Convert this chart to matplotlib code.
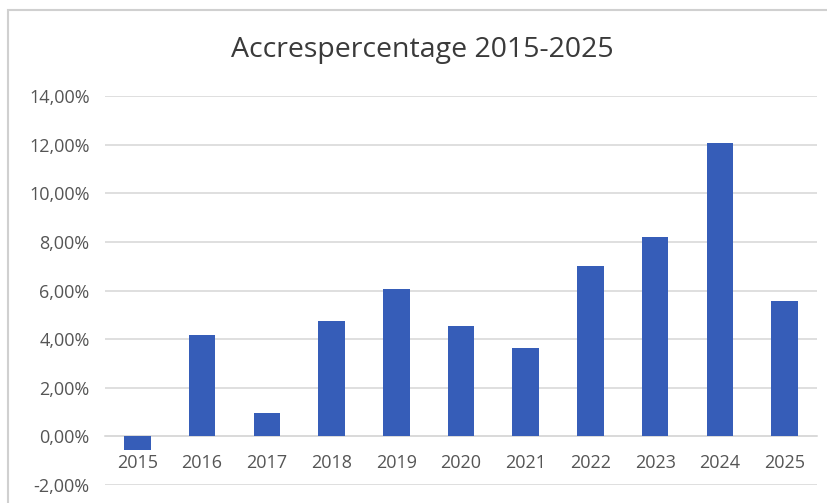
import matplotlib
matplotlib.use("Agg")
import matplotlib.pyplot as plt
from matplotlib.ticker import FuncFormatter, MultipleLocator
from matplotlib.patches import Rectangle

years = ["2015", "2016", "2017", "2018", "2019", "2020", "2021", "2022", "2023", "2024", "2025"]
values = [-0.58, 4.19, 0.95, 4.74, 6.06, 4.56, 3.63, 7.02, 8.21, 12.05, 5.58]
title = "Accrespercentage 2015-2025"

plt.rcParams['font.family'] = ['Open Sans', 'DejaVu Sans']

fig = plt.figure(figsize=(8.27, 5.03), dpi=100)
fig.patch.set_facecolor("white")
fig.patches.append(Rectangle((8/827, -0.1), 1.1, 1 - 10/503 + 0.1, transform=fig.transFigure,
                             fill=False, edgecolor="#D0D0D0", linewidth=1.5))

ax = fig.add_axes([105/827, 18/503, 712/827, 389/503])
x = list(range(len(years)))
ax.bar(x, values, width=0.41, color="#365DB8", zorder=3)

ax.set_xlim(-0.5, len(years) - 0.5)
ax.set_ylim(-2, 14)
ax.yaxis.set_major_locator(MultipleLocator(2))
ax.yaxis.set_major_formatter(FuncFormatter(lambda v, p: f"{v:.2f}".replace(".", ",") + "%"))
ax.grid(axis="y", color="#D9D9D9", linewidth=1.2, zorder=0)
ax.set_axisbelow(True)

for s in ["top", "right", "left"]:
    ax.spines[s].set_visible(False)
ax.spines["bottom"].set_position(("data", 0))
ax.spines["bottom"].set_color("#D9D9D9")
ax.spines["bottom"].set_linewidth(1.2)

ax.set_xticks(x)
ax.set_xticklabels(years)
ax.tick_params(axis="x", length=0, pad=13, labelsize=13, labelcolor="#555555")
ax.tick_params(axis="y", length=0, pad=11, labelsize=13, labelcolor="#555555")

fig.text(422/827, 1 - 50/503, title, ha="center", va="center", fontsize=20.5, color="#3A3A3A")

fig.savefig("out.png", dpi=100, facecolor="white")
